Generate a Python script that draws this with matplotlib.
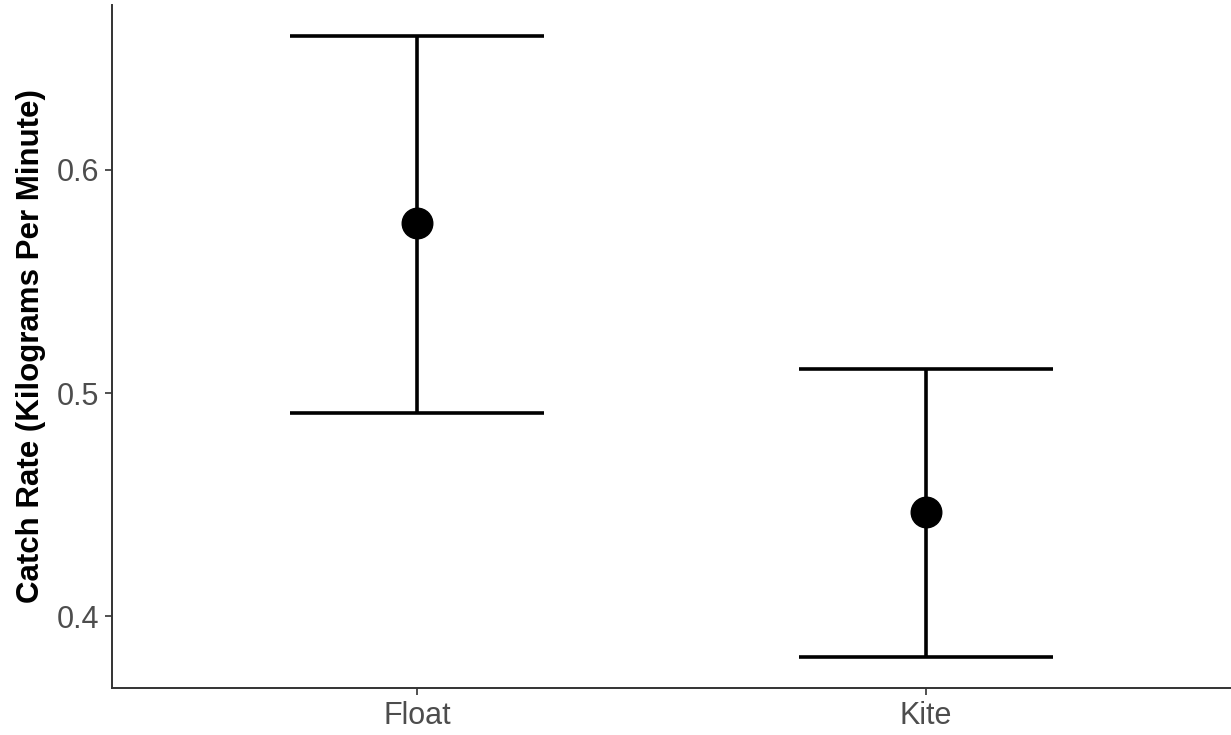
import matplotlib
matplotlib.use("Agg")
import matplotlib.pyplot as plt

plt.rcParams['font.family'] = ['Liberation Sans', 'DejaVu Sans']

methods = ["Float", "Kite"]
mean_rate = [0.576, 0.4465]
lower_ci = [0.491, 0.3817]
upper_ci = [0.660, 0.5107]

fig = plt.figure(figsize=(12.31, 7.35), dpi=100)
ax = fig.add_axes([112 / 1231, 1 - 688 / 735, 1 - 112 / 1231, (688 - 5) / 735])

x = list(range(1, len(methods) + 1))
half_w = 0.25
for xi, lo, hi in zip(x, lower_ci, upper_ci):
    ax.plot([xi, xi], [lo, hi], color="black", lw=2.6, solid_capstyle="butt", zorder=2)
    ax.plot([xi - half_w, xi + half_w], [lo, lo], color="black", lw=2.6, solid_capstyle="butt", zorder=2)
    ax.plot([xi - half_w, xi + half_w], [hi, hi], color="black", lw=2.6, solid_capstyle="butt", zorder=2)
ax.plot(x, mean_rate, "o", color="black", markersize=22, zorder=3)

# ggplot-style expansion: 0.6 units on discrete x, 5% on y
ax.set_xlim(0.4, len(methods) + 0.6)
span = max(upper_ci) - min(lower_ci)
ax.set_ylim(min(lower_ci) - 0.05 * span, max(upper_ci) + 0.05 * span)

ax.set_xticks(x)
ax.set_xticklabels(methods)
ax.set_yticks([0.4, 0.5, 0.6])
ax.set_yticklabels(["0.4", "0.5", "0.6"])
ax.tick_params(axis="both", colors="#333333", labelcolor="#4D4D4D", labelsize=22,
               length=5, width=1.2, pad=4)

for side in ["top", "right"]:
    ax.spines[side].set_visible(False)
for side in ["left", "bottom"]:
    ax.spines[side].set_color("#333333")
    ax.spines[side].set_linewidth(1.4)

ax.set_ylabel("Catch Rate (Kilograms Per Minute)", fontsize=22.5, fontweight="bold",
              color="black", labelpad=8)

fig.savefig("out.png", dpi=100)
